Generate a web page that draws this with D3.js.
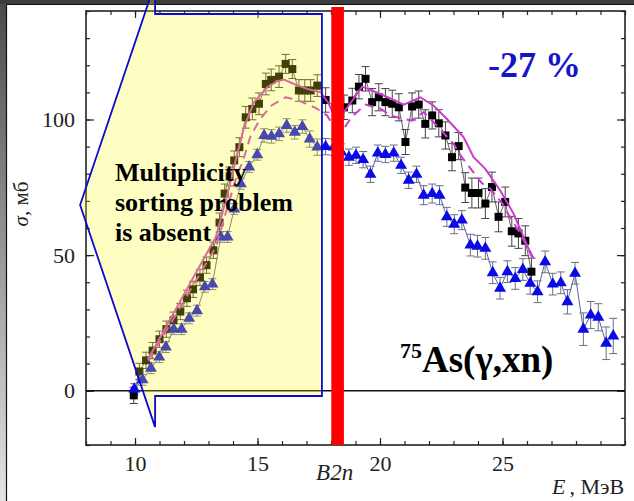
<!DOCTYPE html>
<html>
<head>
<meta charset="utf-8">
<script src="https://cdn.jsdelivr.net/npm/d3@7/dist/d3.min.js"></script>
<style>
  html, body { margin: 0; padding: 0; background: #fff; }
  svg { display: block; }
</style>
</head>
<body>
<svg id="chart" width="634" height="501"></svg>
<script>
// 75As(γ,xn) photoneutron cross section, σ (mb) vs photon energy E (MeV)

// Experiment (black squares)
const sqE   = [9.95,10.18,10.45,10.72,11.00,11.28,11.57,11.85,12.12,12.37,12.65,12.92,13.20,13.45,13.66,13.86,14.05,14.26,14.52,14.79,15.06,15.34,15.56,15.88,16.15,16.42,16.69,16.93,17.17,17.44,17.78,18.19,18.53,18.87,19.14,19.41,19.68,19.95,20.22,20.50,20.77,21.04,21.31,21.58,21.85,22.13,22.40,22.67,22.94,23.21,23.48,23.75,24.02,24.30,24.57,24.84,25.11,25.38,25.65,25.93,26.18];
const sqSig = [-1.7,7.1,11.2,14.8,19.0,22.7,26.0,29.2,34.1,37.4,41.8,46.3,51.8,62.0,72.7,79.0,84.9,89.8,100.8,103.9,105.8,113.1,114.6,115.8,120.5,118.6,110.7,110.7,110.7,112.5,107.2,104.5,104.5,107.0,112.1,115.0,106.4,108.2,106.4,105.8,104.5,91.7,104.8,105.5,98.4,101.5,98.6,94.1,86.1,90.2,74.9,72.9,72.9,69.0,75.1,64.1,69.6,58.8,58.0,55.3,43.9];
const sqErr = [3,3,3,3,3,3,3,3,3,3,3,3,3,3.5,3.5,3.5,3.5,3.5,4,4,4,4,4,4,3.5,3.5,4,4,4,4,4.5,4.5,4.5,4.5,4.5,4.5,5,5,5,5,5,4.6,5,5,5.2,5,5,5,5,5,5.5,5.5,5.5,5.5,5.5,5.5,5.5,5.5,5.5,5.5,5];

// Evaluated data (blue triangles)
const trE   = [9.97,10.31,10.65,10.99,11.26,11.58,11.90,12.21,12.53,12.85,13.16,13.50,13.78,14.05,14.32,14.66,14.99,15.27,15.57,15.88,16.19,16.52,16.83,17.13,17.44,17.78,18.11,18.42,18.73,19.02,19.31,19.61,19.91,20.22,20.56,20.86,21.17,21.49,21.78,22.13,22.43,22.73,23.03,23.34,23.69,23.98,24.30,24.60,24.90,25.20,25.52,25.83,26.13,26.43,26.74,27.05,27.38,27.65,27.96,28.30,28.60,28.91,29.23,29.52];
const trSig = [0.6,4.0,8.3,12.4,16.1,22.7,22.7,26.7,29.5,38.3,39.3,56.7,56.7,67.0,76.3,82.5,87.0,94.1,93.8,94.7,97.8,95.3,97.4,92.8,89.8,90.0,89.8,88.0,86.1,86.8,85.2,79.8,87.6,87.1,87.6,83.1,77.6,79.8,72.1,72.7,72.1,64.1,61.4,62.9,53.7,53.3,52.5,43.5,37.8,43.9,41.4,44.7,39.6,36.5,47.5,39.3,39.8,32.8,43.3,22.7,27.9,27.1,17.5,20.2];
const trErr = [2,2,2,2,2,2,2,2,2,2,2,2,2,2,2,2,2,2.5,2.5,2.5,2.5,2.5,2.5,3,3,3,3,3,3,3,3,3,3,3,3,3,3,3,3.5,3.5,3.5,3.5,3.5,3.5,4,4,4,4,4,4,4,4,4,4,4,4,4,4.5,4,6,5,5,6,6.5];

// Model curves (magenta)
const solidE   = [10.52,13.30,13.78,14.11,14.45,14.86,15.40,15.81,16.08,16.49,17.03,17.58,17.90,18.25,18.53,18.87,19.27,20.02,20.97,21.65,22.19,22.73,23.41,23.82,24.29,24.90,25.45,26.06,26.27];
const solidSig = [11.4,56.7,72.7,84.9,97.2,106.4,111.9,114.1,114.7,113.1,111.3,110.0,106.0,99.0,102.7,107.0,112.1,109.4,105.5,108.2,105.1,100.2,93.5,86.1,81.9,73.9,65.3,52.5,48.8];
const dashE    = [10.55,13.30,13.75,14.15,14.45,14.72,15.10,15.54,16.15,16.56,17.37,17.84,18.20,18.55,18.85,19.41,20.02,20.43,20.97,21.30,21.78,22.06,22.50,23.00,23.34,24.15,24.50,25.00,25.30,25.65,25.93,26.20];
const dashSig  = [11.0,53.0,67.0,79.0,86.0,94.0,100.0,105.0,108.2,107.4,104.3,101.5,96.0,97.0,101.0,105.5,104.0,101.5,100.2,99.6,102.7,100.2,96.0,91.0,86.1,76.6,74.5,69.0,64.0,59.2,54.3,49.4];

// Axis ticks
const xMajor = [10, 15, 20, 25];
const xMinor = d3.range(8, 31, 1);
const yMajor = [0, 50, 100];
const yMinor = d3.range(-20, 141, 10);

// Two-neutron separation threshold (MeV)
const B2n = 18.27;

// Callout region (E, σ) where multiplicity sorting does not matter
const calloutE   = [7.76, 10.82, 10.82, 17.63, 17.63, 10.82, 10.82];
const calloutSig = [68.5, 150.3, 138.9, 138.9, -1.94, -1.94, -13.4];

const svg = d3.select("#chart");
const serif = "'Liberation Serif','Times New Roman',serif";

const x = d3.scaleLinear().domain([8, 30]).range([86, 625]);
const y = d3.scaleLinear().domain([-20, 140]).range([445, 11]);

// ---- page frame ----
const defs = svg.append("defs");
const grad = defs.append("linearGradient").attr("id", "edge").attr("x1", 0).attr("y1", 0).attr("x2", 0).attr("y2", 1);
grad.append("stop").attr("offset", "0%").attr("stop-color", "#4a4a4a");
grad.append("stop").attr("offset", "100%").attr("stop-color", "#e4e4e4");
svg.append("rect").attr("x", 0).attr("y", 0).attr("width", 6).attr("height", 501).attr("fill", "url(#edge)");
svg.append("rect").attr("x", 0).attr("y", 0).attr("width", 634).attr("height", 4).attr("fill", "#3c3c3c");
svg.append("line").attr("x1", 6.5).attr("x2", 6.5).attr("y1", 4).attr("y2", 501).attr("stroke", "#111").attr("stroke-width", 1.2);
svg.append("line").attr("x1", 6).attr("x2", 634).attr("y1", 4.5).attr("y2", 4.5).attr("stroke", "#111").attr("stroke-width", 1.2);

// ---- axes (ticks pointing inward on all four sides) ----
const axisColor = "#222";
function styleAxis(g) {
  g.select(".domain").remove();
  g.selectAll(".tick line").attr("stroke", axisColor).attr("stroke-width", 1.2);
  g.selectAll(".tick text").attr("fill", "#222").style("font-family", serif).style("font-size", "22px");
}
const H = 445, W = 625;
svg.append("g").attr("transform", `translate(0,${H})`)
  .call(d3.axisBottom(x).tickValues(xMinor).tickSize(-4).tickFormat("")).call(styleAxis);
svg.append("g").attr("transform", `translate(0,${H})`)
  .call(d3.axisBottom(x).tickValues(xMajor).tickSize(-7).tickPadding(10).tickFormat(d3.format("d"))).call(styleAxis);
svg.append("g").attr("transform", `translate(0,11)`)
  .call(d3.axisTop(x).tickValues(xMinor).tickSize(-4).tickFormat("")).call(styleAxis);
svg.append("g").attr("transform", `translate(0,11)`)
  .call(d3.axisTop(x).tickValues(xMajor).tickSize(-7).tickFormat("")).call(styleAxis);
svg.append("g").attr("transform", `translate(86,0)`)
  .call(d3.axisLeft(y).tickValues(yMinor).tickSize(-4).tickFormat("")).call(styleAxis);
svg.append("g").attr("transform", `translate(86,0)`)
  .call(d3.axisLeft(y).tickValues(yMajor).tickSize(-8).tickPadding(11).tickFormat(d3.format("d"))).call(styleAxis);
svg.append("g").attr("transform", `translate(${W},0)`)
  .call(d3.axisRight(y).tickValues(yMinor).tickSize(-4).tickFormat("")).call(styleAxis);
svg.append("g").attr("transform", `translate(${W},0)`)
  .call(d3.axisRight(y).tickValues(yMajor).tickSize(-8).tickFormat("")).call(styleAxis);

svg.append("rect").attr("x", 86).attr("y", 11).attr("width", W - 86).attr("height", H - 11)
  .attr("fill", "none").attr("stroke", axisColor).attr("stroke-width", 1.6);

// zero line
svg.append("line").attr("x1", 86).attr("x2", W).attr("y1", y(0)).attr("y2", y(0))
  .attr("stroke", "#111").attr("stroke-width", 1.3);

// ---- data ----
const squares = sqE.map((e, i) => ({ e, s: sqSig[i], err: sqErr[i] }));
const triangles = trE.map((e, i) => ({ e, s: trSig[i], err: trErr[i] }));
const solid = solidE.map((e, i) => ({ e, s: solidSig[i] }));
const dashed = dashE.map((e, i) => ({ e, s: dashSig[i] }));

const line = d3.line().x(d => x(d.e)).y(d => y(d.s));

// thin connecting lines
svg.append("path").datum(triangles).attr("d", line)
  .attr("fill", "none").attr("stroke", "#5a6496").attr("stroke-width", 1);
svg.append("path").datum(squares).attr("d", line)
  .attr("fill", "none").attr("stroke", "#555").attr("stroke-width", 0.9);

function errorBars(data, color) {
  const g = svg.append("g").attr("stroke", color).attr("stroke-width", 1).attr("fill", "none");
  const eb = g.selectAll("g").data(data).join("g");
  eb.append("line").attr("x1", d => x(d.e)).attr("x2", d => x(d.e))
    .attr("y1", d => y(d.s - d.err)).attr("y2", d => y(d.s + d.err));
  eb.append("line").attr("x1", d => x(d.e) - 4).attr("x2", d => x(d.e) + 4)
    .attr("y1", d => y(d.s + d.err)).attr("y2", d => y(d.s + d.err));
  eb.append("line").attr("x1", d => x(d.e) - 4).attr("x2", d => x(d.e) + 4)
    .attr("y1", d => y(d.s - d.err)).attr("y2", d => y(d.s - d.err));
}
errorBars(triangles, "#6a6f88");
errorBars(squares, "#444");

// markers
svg.append("g").selectAll("rect").data(squares).join("rect")
  .attr("x", d => x(d.e) - 4).attr("y", d => y(d.s) - 4)
  .attr("width", 8).attr("height", 8).attr("fill", "#000");
const tri = d3.symbol(d3.symbolTriangle, 62);
svg.append("g").selectAll("path").data(triangles).join("path")
  .attr("d", tri).attr("transform", d => `translate(${x(d.e)},${y(d.s)})`)
  .attr("fill", "#0a0ae6");

// magenta model curves
const magenta = "#c93ccb";
svg.append("path").datum(dashed).attr("d", line)
  .attr("fill", "none").attr("stroke", magenta).attr("stroke-width", 2).attr("stroke-dasharray", "9,6");
svg.append("path").datum(solid).attr("d", line)
  .attr("fill", "none").attr("stroke", magenta).attr("stroke-width", 2);

// ---- callout region ----
const callout = calloutE.map((e, i) => [x(e), y(calloutSig[i])]);
svg.append("polygon").attr("points", callout.map(p => p.join(",")).join(" "))
  .attr("fill", "rgb(255,250,20)").attr("fill-opacity", 0.26)
  .attr("stroke", "#0a0ad2").attr("stroke-width", 1.8).attr("stroke-linejoin", "miter");

const note = svg.append("text").attr("font-family", serif).attr("font-weight", "bold")
  .attr("font-size", 26).attr("fill", "#000");
["Multiplicity", "sorting problem", "is absent"].forEach((t, i) => {
  note.append("tspan").attr("x", 115).attr("y", 181 + i * 30).text(t);
});

// B2n threshold bar
svg.append("rect").attr("x", x(B2n) - 6.3).attr("y", 7).attr("width", 12.6).attr("height", y(-20) - 7)
  .attr("fill", "#ff0000");

// ---- labels ----
svg.append("text").attr("x", 488).attr("y", 77)
  .attr("font-family", serif).attr("font-weight", "bold").attr("font-size", 36).attr("fill", "#1414c8")
  .text("-27 %");

const title = svg.append("text").attr("x", 400).attr("y", 372)
  .attr("font-family", serif).attr("font-weight", "bold").attr("fill", "#000");
title.append("tspan").attr("font-size", 22).attr("dy", -14).text("75");
title.append("tspan").attr("font-size", 37).attr("dy", 14).text("As(γ,xn)");

svg.append("text").attr("x", x(B2n) - 3).attr("y", 480).attr("text-anchor", "middle")
  .attr("font-family", serif).attr("font-style", "italic").attr("font-size", 23).attr("fill", "#222")
  .text("B2n");

const xl = svg.append("text").attr("x", 552).attr("y", 494)
  .attr("font-family", serif).attr("font-size", 22).attr("fill", "#222");
xl.append("tspan").attr("font-style", "italic").text("E");
xl.append("tspan").attr("dx", 4).text(", МэВ");

const yl = svg.append("text").attr("transform", "translate(28,204) rotate(-90)")
  .attr("text-anchor", "middle").attr("font-family", serif).attr("font-size", 21).attr("fill", "#222");
yl.append("tspan").attr("font-style", "italic").text("σ");
yl.append("tspan").text(", мб");
</script>
</body>
</html>
